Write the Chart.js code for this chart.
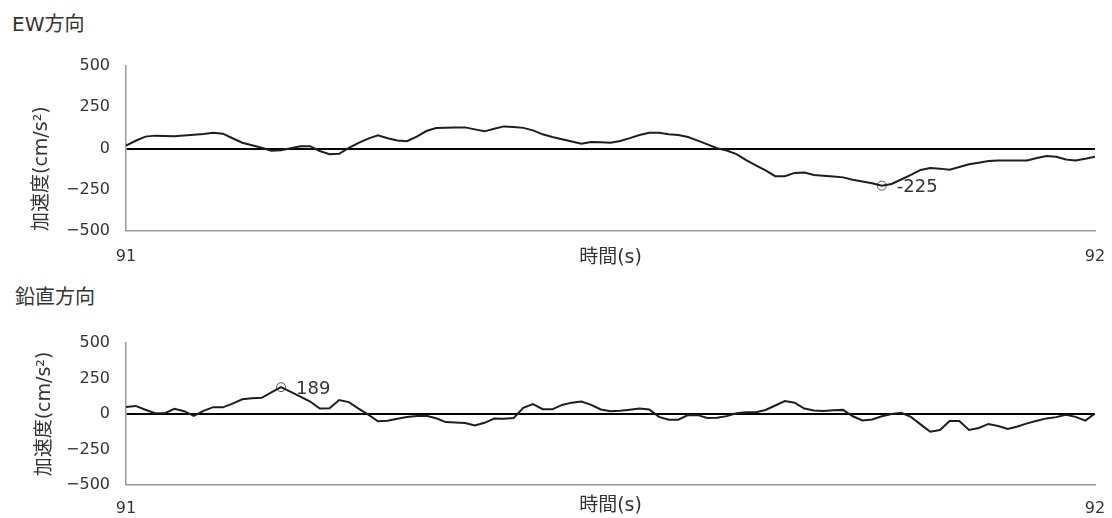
<!DOCTYPE html>
<html>
<head>
<meta charset="utf-8">
<script src="https://cdn.jsdelivr.net/npm/chart.js@4/dist/chart.umd.min.js"></script>
<style>
  body { margin: 0; background: #fff; width: 1112px; height: 518px; position: relative; overflow: hidden;
         font-family: 'DejaVu Sans', 'Noto Sans CJK JP', sans-serif; color: #333; }
  .ttl { position: absolute; font-size: 20px; line-height: 20px; white-space: nowrap; }
  .wrap { position: absolute; left: 0; width: 1112px; }
</style>
</head>
<body>
<div class="ttl" style="left:12px; top:14px;">EW方向</div>
<div class="ttl" style="left:15px; top:287px;">鉛直方向</div>
<div class="wrap" style="top:50px; height:220px;"><canvas id="ewChart"></canvas></div>
<div class="wrap" style="top:325px; height:193px;"><canvas id="vertChart"></canvas></div>
<script>
// acceleration samples every 0.01 s from 91.00 to 92.00 s (cm/s2)
var ewAccel = [
  18, 47, 72, 78, 76, 74, 79, 84, 88, 95,
  90, 62, 35, 20, 5, -13, -10, 2, 14, 14,
  -15, -35, -32, 4, 34, 60, 80, 62, 48, 44,
  72, 106, 124, 126, 128, 128, 116, 104, 120, 134,
  130, 125, 110, 86, 70, 56, 42, 29, 40, 38,
  35, 46, 63, 82, 96, 96, 86, 82, 70, 48,
  25, 2, -12, -34, -70, -102, -133, -168, -168, -148,
  -145, -160, -165, -169, -175, -189, -200, -211, -225, -215,
  -188, -160, -130, -118, -122, -128, -112, -96, -86, -76,
  -72, -72, -73, -72, -58, -45, -50, -66, -72, -62,
  -50
];
var vertAccel = [
  50, 57, 30, 6, 6, 36, 20, -13, 22, 48,
  47, 73, 104, 111, 114, 152, 189, 156, 122, 88,
  38, 40, 98, 84, 38, -5, -51, -47, -34, -21,
  -14, -12, -30, -57, -60, -64, -80, -62, -32, -34,
  -29, 44, 70, 34, 33, 64, 80, 88, 64, 32,
  20, 23, 30, 38, 32, -20, -40, -40, -7, -8,
  -28, -26, -15, 5, 12, 12, 28, 60, 91, 80,
  38, 24, 22, 27, 29, -16, -46, -39, -16, 0,
  9, -20, -73, -125, -113, -50, -49, -112, -98, -70,
  -84, -105, -88, -66, -48, -31, -22, -5, -20, -47,
  4
];
var timeStart = 91, timeEnd = 92, timeStep = 0.01;
var xTicks = [91, 92];
var yTicks = [-500, -250, 0, 250, 500];
var ewPeak = { t: 91.78, value: -225 };
var vertPeak = { t: 91.16, value: 189 };

var FONT = "'DejaVu Sans', 'Noto Sans CJK JP', sans-serif";

function toPoints(values) {
  return values.map(function (v, i) {
    return { x: +(timeStart + i * timeStep).toFixed(2), y: v };
  });
}

var peakLabel = {
  id: 'peakLabel',
  afterDatasetsDraw: function (chart) {
    var meta = chart.getDatasetMeta(1);
    var pt = meta.data[0];
    var ctx = chart.ctx;
    ctx.save();
    ctx.font = '18px ' + FONT;
    ctx.fillStyle = '#333';
    ctx.textBaseline = 'middle';
    ctx.textAlign = 'left';
    ctx.fillText(String(chart.data.datasets[1].data[0].y), pt.x + 15, pt.y + 2);
    ctx.restore();
  }
};

function makeChart(id, values, peak, o) {
  var ctx = document.getElementById(id).getContext('2d');
  return new Chart(ctx, {
    type: 'line',
    data: {
      datasets: [{
        data: toPoints(values),
        borderColor: '#1e1e1e',
        borderWidth: 2,
        pointRadius: 0,
        tension: 0
      }, {
        data: [{ x: peak.t, y: peak.value }],
        showLine: false,
        pointRadius: 4.5,
        pointBorderWidth: 1,
        pointBorderColor: '#555',
        pointBackgroundColor: 'rgba(0,0,0,0)'
      }]
    },
    options: {
      responsive: true,
      maintainAspectRatio: false,
      animation: false,
      layout: { padding: { top: o.padTop, right: 17, left: 0, bottom: 0 } },
      plugins: { legend: { display: false }, tooltip: { enabled: false } },
      scales: {
        x: {
          type: 'linear',
          min: timeStart,
          max: timeEnd,
          afterBuildTicks: function (scale) {
            scale.ticks = xTicks.map(function (v) { return { value: v }; });
          },
          afterFit: function (scale) {
            scale.height = o.xHeight;
            scale.paddingLeft = 0;
            scale.paddingRight = 0;
          },
          grid: { display: false },
          border: { display: true, color: '#999', width: 1.5 },
          ticks: { color: '#333', padding: o.xTickPad, maxRotation: 0, font: { family: FONT, size: 16 } },
          title: {
            display: true,
            text: '時間(s)',
            color: '#333',
            font: { family: FONT, size: 19 },
            padding: { top: 0, bottom: o.xTitlePad }
          }
        },
        y: {
          min: -500,
          max: 500,
          afterBuildTicks: function (scale) {
            scale.ticks = yTicks.map(function (v) { return { value: v }; });
          },
          afterFit: function (scale) {
            scale.width = 126;
            scale.paddingTop = 0;
            scale.paddingBottom = 0;
          },
          grid: {
            drawTicks: false,
            color: function (c) { return c.tick && c.tick.value === 0 ? '#000' : 'rgba(0,0,0,0)'; },
            lineWidth: function (c) { return c.tick && c.tick.value === 0 ? 2 : 0; }
          },
          border: { display: true, color: '#999', width: 1.5 },
          ticks: {
            color: '#333',
            padding: 16,
            font: { family: FONT, size: 16 },
            callback: function (v) { return v < 0 ? '\u2212' + Math.abs(v) : String(v); }
          },
          title: {
            display: true,
            text: '加速度(cm/s²)',
            align: o.yTitleAlign,
            color: '#333',
            font: { family: FONT, size: 19 },
            padding: { top: o.yTitlePad, bottom: 0 }
          }
        }
      }
    },
    plugins: [peakLabel]
  });
}

makeChart('ewChart', ewAccel, ewPeak, { padTop: 16, xHeight: 39, xTickPad: 8, xTitlePad: 1, yTitleAlign: 'start', yTitlePad: 31 });
makeChart('vertChart', vertAccel, vertPeak, { padTop: 18, xHeight: 33, xTickPad: 6, xTitlePad: 1, yTitleAlign: 'center', yTitlePad: 34 });
</script>
</body>
</html>
